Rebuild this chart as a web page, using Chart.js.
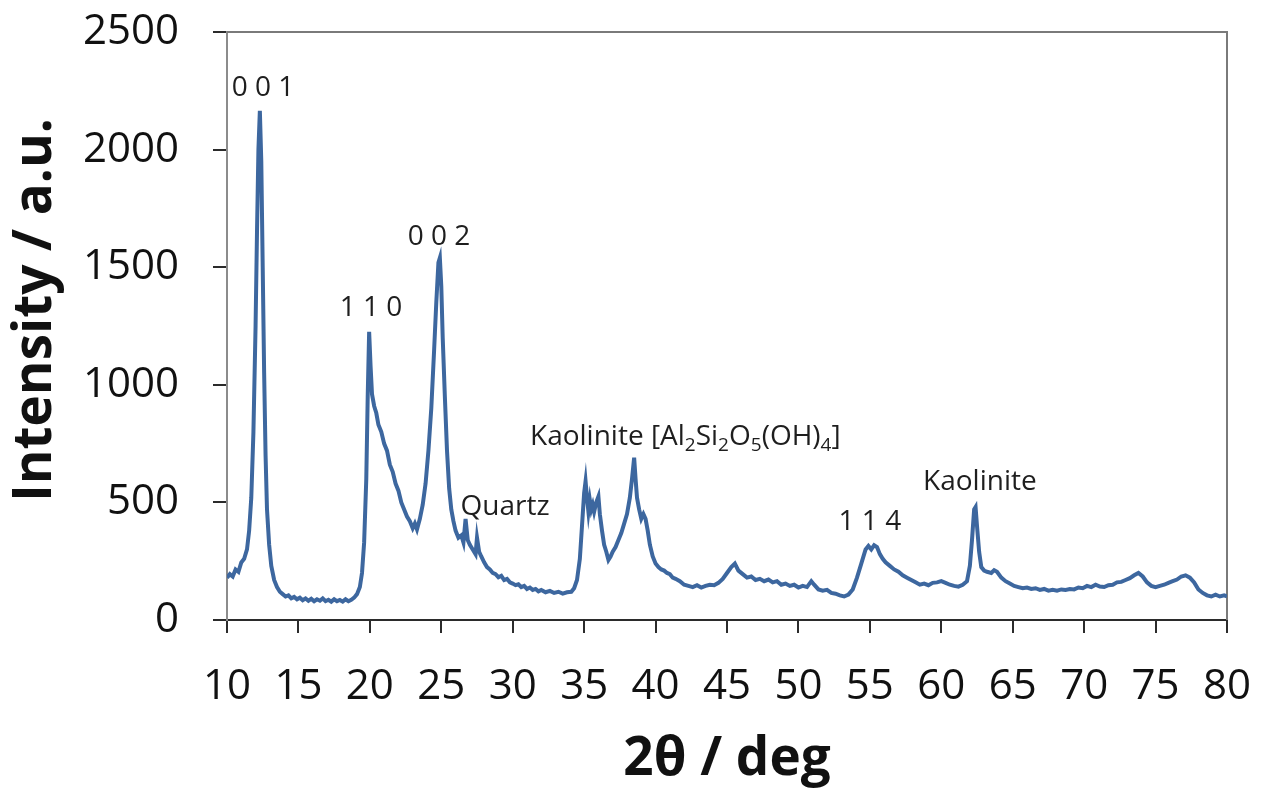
<!DOCTYPE html>
<html>
<head>
<meta charset="utf-8">
<script src="https://cdn.jsdelivr.net/npm/chart.js@4.4.1/dist/chart.umd.min.js"></script>
<style>
  html, body { margin: 0; padding: 0; background: #ffffff; }
  #wrap { width: 1261px; height: 792px; }
</style>
</head>
<body>
<div id="wrap"><canvas id="xrdChart" width="1261" height="792"></canvas></div>
<script>
// 2theta positions (deg)
const twoTheta = [
  10.0, 10.2, 10.4, 10.6, 10.8, 11.0, 11.2, 11.4, 11.55, 11.7, 11.85, 12.0, 12.1, 12.2, 12.3, 12.4, 12.5, 12.6, 12.7, 12.8,
  12.95, 13.1, 13.3, 13.5, 13.7, 13.9, 14.1, 14.3, 14.5, 14.7, 14.9, 15.1, 15.3, 15.5, 15.7, 15.9, 16.1, 16.3, 16.5, 16.7,
  16.9, 17.1, 17.3, 17.5, 17.7, 17.9, 18.1, 18.3, 18.5, 18.7, 18.9, 19.1, 19.3, 19.45, 19.6, 19.75, 19.85, 19.95, 20.05, 20.15,
  20.3, 20.45, 20.6, 20.8, 21.0, 21.2, 21.4, 21.6, 21.8, 22.0, 22.2, 22.4, 22.6, 22.8, 23.0, 23.15, 23.3, 23.5, 23.7, 23.9,
  24.1, 24.3, 24.5, 24.65, 24.8, 24.9, 25.0, 25.1, 25.25, 25.4, 25.55, 25.7, 25.85, 26.0, 26.2, 26.4, 26.55, 26.7, 26.85, 27.0,
  27.2, 27.4, 27.5, 27.65, 27.8, 28.0, 28.2, 28.4, 28.6, 28.8, 29.0, 29.2, 29.4, 29.6, 29.8, 30.0, 30.2, 30.4, 30.6, 30.8,
  31.0, 31.2, 31.4, 31.6, 31.8, 32.0, 32.3, 32.6, 32.9, 33.2, 33.5, 33.8, 34.1, 34.3, 34.5, 34.7, 34.85, 35.0, 35.1, 35.2,
  35.3, 35.4, 35.5, 35.6, 35.7, 35.85, 36.0, 36.1, 36.25, 36.4, 36.55, 36.7, 36.85, 37.0, 37.2, 37.4, 37.6, 37.8, 38.0, 38.2,
  38.35, 38.5, 38.6, 38.7, 38.85, 39.0, 39.15, 39.3, 39.45, 39.6, 39.8, 40.0, 40.2, 40.4, 40.6, 40.8, 41.0, 41.2, 41.4, 41.7,
  42.0, 42.3, 42.6, 42.9, 43.2, 43.5, 43.8, 44.1, 44.4, 44.7, 45.0, 45.3, 45.55, 45.8, 46.1, 46.4, 46.7, 47.0, 47.3, 47.6,
  47.9, 48.2, 48.5, 48.8, 49.1, 49.4, 49.7, 50.0, 50.3, 50.6, 50.9, 51.1, 51.4, 51.7, 52.0, 52.3, 52.6, 52.9, 53.2, 53.5,
  53.8, 54.1, 54.4, 54.7, 54.9, 55.1, 55.3, 55.5, 55.7, 55.9, 56.1, 56.4, 56.7, 57.0, 57.3, 57.6, 57.9, 58.2, 58.5, 58.8,
  59.1, 59.4, 59.7, 60.0, 60.3, 60.6, 60.9, 61.2, 61.5, 61.8, 62.0, 62.15, 62.3, 62.4, 62.5, 62.65, 62.8, 63.0, 63.2, 63.5,
  63.7, 63.9, 64.2, 64.5, 64.8, 65.1, 65.4, 65.7, 66.0, 66.3, 66.6, 66.9, 67.2, 67.5, 67.8, 68.1, 68.4, 68.7, 69.0, 69.3,
  69.6, 69.9, 70.2, 70.5, 70.8, 71.1, 71.4, 71.7, 72.0, 72.3, 72.6, 72.9, 73.2, 73.5, 73.8, 74.1, 74.4, 74.7, 75.0, 75.3,
  75.6, 75.9, 76.2, 76.5, 76.8, 77.1, 77.4, 77.7, 78.0, 78.3, 78.6, 78.9, 79.2, 79.5, 79.8, 80.0
];

// intensity (a.u.) at each 2theta
const intensity = [
  180, 195, 185, 215, 205, 245, 260, 300, 380, 520, 800, 1250, 1650, 2000, 2165, 1950, 1500, 1050, 700, 470,
  320, 230, 170, 140, 120, 110, 100, 105, 92, 98, 88, 95, 84, 92, 82, 90, 80, 88, 82, 92,
  80, 86, 78, 88, 80, 85, 78, 88, 80, 86, 95, 110, 140, 200, 330, 600, 950, 1225, 1080, 960,
  910, 880, 830, 800, 750, 720, 660, 630, 580, 550, 500, 470, 440, 420, 390, 410, 385, 430, 490, 580,
  720, 900, 1150, 1350, 1520, 1540, 1420, 1200, 950, 720, 560, 470, 420, 380, 350, 360, 330, 430, 340, 320,
  300, 280, 350, 290, 270, 245, 225, 215, 200, 195, 182, 188, 170, 175, 160, 155, 148, 152, 140, 145,
  132, 138, 128, 132, 122, 128, 118, 124, 115, 120, 112, 118, 120, 135, 170, 260, 400, 540, 590, 520,
  460, 510, 470, 490, 460, 500, 525, 450, 380, 320, 290, 255, 270, 290, 310, 340, 370, 410, 450, 520,
  600, 690, 600, 520, 470, 430, 450, 430, 380, 320, 270, 240, 225, 215, 210, 200, 195, 180, 175, 165,
  150, 145, 140, 148, 138, 145, 150, 148, 158, 175, 200, 225, 240, 210, 195, 180, 185, 170, 175, 165,
  172, 160, 165, 150, 155, 145, 150, 138, 145, 140, 165, 150, 130, 125, 128, 115, 112, 105, 100, 108,
  130, 180, 240, 300, 315, 300, 318, 310, 280, 260, 245, 230, 215, 205, 190, 180, 170, 160, 150, 155,
  148, 158, 160, 165, 158, 150, 145, 142, 150, 165, 230, 340, 470, 480, 400, 290, 225, 210, 205, 200,
  212, 205, 180, 165, 155, 145, 140, 135, 138, 132, 135, 128, 132, 125, 128, 125, 130, 128, 132, 130,
  138, 135, 145, 140, 150, 142, 140, 148, 150, 160, 162, 170, 178, 190, 200, 185, 160, 145, 140, 145,
  150, 158, 165, 172, 185, 190, 180, 160, 130, 115, 105, 100, 108, 100, 105, 100
];

// peak labels, anchored in data units (2theta, intensity)
const peakLabels = ['0 0 1', '1 1 0', '0 0 2', 'Quartz', '1 1 4', 'Kaolinite'];
const peakLabelX = [12.52, 20.08, 24.84, 29.46, 55.0, 62.7];
const peakLabelY = [2261, 1326, 1628, 480, 417, 587];

// the long kaolinite formula label, split into normal / subscript pieces
const formulaParts = ['Kaolinite [Al', '2', 'Si', '2', 'O', '5', '(OH)', '4', ']'];
const formulaSub = [false, true, false, true, false, true, false, true, false];
const formulaX = 31.21;
const formulaY = 778;

const yTitle = 'Intensity / a.u.';

const points = twoTheta.map((t, i) => ({ x: t, y: intensity[i] }));

// draws the grey frame on top and right of the plot
const frameBox = {
  id: 'frameBox',
  beforeDatasetsDraw(chart) {
    const { ctx, chartArea } = chart;
    ctx.save();
    ctx.strokeStyle = '#7a7a7a';
    ctx.lineWidth = 2;
    ctx.beginPath();
    ctx.moveTo(chartArea.left, chartArea.top);
    ctx.lineTo(chartArea.right, chartArea.top);
    ctx.lineTo(chartArea.right, chartArea.bottom);
    ctx.stroke();
    ctx.restore();
  }
};

// peak labels + y title (drawn here so it can sit a bit above centre like the original)
const peakText = {
  id: 'peakText',
  afterDatasetsDraw(chart) {
    const { ctx, chartArea } = chart;
    const xs = chart.scales.x;
    const ys = chart.scales.y;
    ctx.save();
    ctx.fillStyle = '#1e1e1e';
    ctx.font = '28px "Open Sans"';
    ctx.textAlign = 'center';
    ctx.textBaseline = 'middle';
    peakLabels.forEach((lab, i) => {
      ctx.fillText(lab, xs.getPixelForValue(peakLabelX[i]), ys.getPixelForValue(peakLabelY[i]));
    });

    // formula with subscripts
    let px = xs.getPixelForValue(formulaX);
    const py = ys.getPixelForValue(formulaY);
    ctx.textAlign = 'left';
    formulaParts.forEach((part, i) => {
      if (formulaSub[i]) {
        ctx.font = '19px "Open Sans"';
        ctx.fillText(part, px, py + 9);
      } else {
        ctx.font = '28px "Open Sans"';
        ctx.fillText(part, px, py);
      }
      px += ctx.measureText(part).width;
    });

    // y axis title
    ctx.translate(36, (chartArea.top + chartArea.bottom) / 2 - 16);
    ctx.rotate(-Math.PI / 2);
    ctx.textAlign = 'center';
    ctx.fillStyle = '#111111';
    ctx.font = 'bold 53px "Open Sans"';
    ctx.fillText(yTitle, 0, 0);
    ctx.restore();
  }
};

const ctx = document.getElementById('xrdChart').getContext('2d');
const xrdChart = new Chart(ctx, {
  type: 'line',
  data: {
    datasets: [{
      data: points,
      borderColor: '#3d679f',
      borderWidth: 4,
      pointRadius: 0,
      tension: 0,
      fill: false
    }]
  },
  options: {
    responsive: false,
    animation: false,
    layout: { padding: { top: 32, right: 34, left: 0, bottom: 0 } },
    plugins: {
      legend: { display: false },
      tooltip: { enabled: false }
    },
    scales: {
      x: {
        type: 'linear',
        min: 10,
        max: 80,
        // fixed box size, and no extra label overflow padding
        afterFit(scale) {
          scale.height = 172;
          scale.paddingLeft = 0;
          scale.paddingRight = 0;
        },
        border: { color: '#2b2b2b', width: 2 },
        grid: { drawOnChartArea: false, drawTicks: true, tickLength: 13, color: '#2b2b2b', lineWidth: 2 },
        ticks: {
          stepSize: 5,
          padding: 29,
          color: '#111111',
          font: { family: 'Open Sans', size: 42 },
          callback: v => String(v)
        },
        title: {
          display: true,
          text: '2θ / deg',
          color: '#111111',
          padding: { top: 6, bottom: 0 },
          font: { family: 'Open Sans', size: 53, weight: 'bold' }
        }
      },
      y: {
        min: 0,
        max: 2500,
        afterFit(scale) {
          scale.width = 227;
          scale.paddingTop = 0;
          scale.paddingBottom = 0;
        },
        border: { color: '#8c8c8c', width: 2 },
        grid: { drawOnChartArea: false, drawTicks: true, tickLength: 14, color: '#2b2b2b', lineWidth: 2 },
        ticks: {
          stepSize: 500,
          padding: 34,
          color: '#111111',
          font: { family: 'Open Sans', size: 42 },
          callback: v => String(v)
        }
      }
    }
  },
  plugins: [frameBox, peakText]
});
</script>
</body>
</html>
